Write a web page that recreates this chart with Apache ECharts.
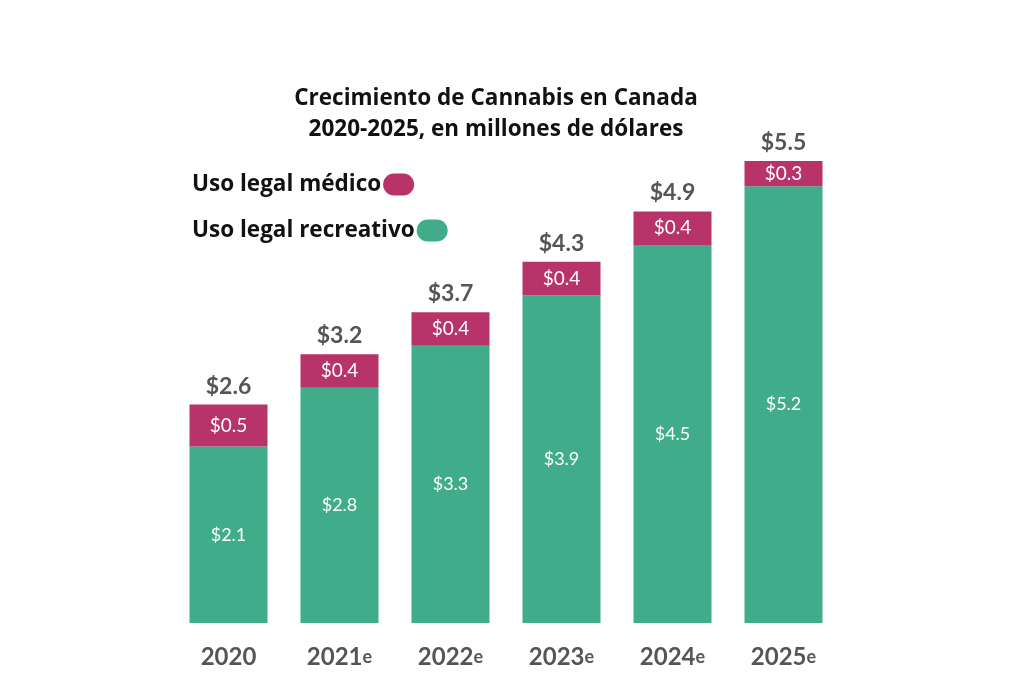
<!DOCTYPE html>
<html><head><meta charset="utf-8">
<script src="https://cdn.jsdelivr.net/npm/echarts@6/dist/echarts.min.js"></script>
<style>html,body{margin:0;padding:0;background:#fff}#c{width:1024px;height:683px}</style>
</head><body><div id="c"></div>
<script>
const years = ['2020', '2021', '2022', '2023', '2024', '2025'];
const yearSuffix = ['', 'e', 'e', 'e', 'e', 'e'];
const recreativo = [2.1, 2.8, 3.3, 3.9, 4.5, 5.2];
const medico = [0.5, 0.4, 0.4, 0.4, 0.4, 0.3];
const totals = [2.6, 3.2, 3.7, 4.3, 4.9, 5.5];

const pill = 'path://M11,0 H20 A11,11 0 0 1 20,22 H11 A11,11 0 0 1 11,0 Z';
const legendText = { fontFamily: 'Open Sans', fontWeight: 'bold', fontSize: 22.5, color: '#111', padding: [0, -3, 0, 0] };
const chart = echarts.init(document.getElementById('c'));
chart.setOption({
  backgroundColor: '#fff',
  title: {
    text: 'Crecimiento de Cannabis en Canada\n2020-2025, en millones de dólares',
    left: 491, top: 78, textAlign: 'center',
    textStyle: { fontFamily: 'Open Sans', fontWeight: 'bold', fontSize: 22.5, color: '#111', lineHeight: 31 }
  },
  legend: [
    { orient: 'vertical', left: 187, top: 168, align: 'right', itemWidth: 31, itemHeight: 22,
      icon: pill, data: ['Uso legal médico'], textStyle: legendText },
    { orient: 'vertical', left: 187, top: 214, align: 'right', itemWidth: 31, itemHeight: 22,
      icon: pill, data: ['Uso legal recreativo'], textStyle: legendText }
  ],
  grid: { left: 173, width: 666, top: 119, bottom: 60 },
  xAxis: {
    type: 'category',
    data: years.map((y, i) => y + '|' + yearSuffix[i]),
    axisLine: { show: false }, axisTick: { show: false },
    axisLabel: {
      margin: 22,
      formatter: v => { const p = v.split('|'); return '{y|' + p[0] + '}' + (p[1] ? '{e|' + p[1] + '}' : ''); },
      rich: {
        y: { fontFamily: 'Lato', fontSize: 24, color: '#555', fontWeight: 'bold' },
        e: { fontFamily: 'Lato', fontSize: 18, color: '#555', fontWeight: 'bold' }
      }
    }
  },
  yAxis: { type: 'value', min: 0, max: 6, show: false, splitLine: { show: false } },
  series: [
    {
      name: 'Uso legal recreativo', type: 'bar', stack: 't', barWidth: 78,
      itemStyle: { color: '#40AC89' },
      label: { show: true, position: 'inside', color: '#fff', fontFamily: 'Lato', fontSize: 18,
        formatter: p => '$' + p.value.toFixed(1) },
      data: recreativo
    },
    {
      name: 'Uso legal médico', type: 'bar', stack: 't', barWidth: 78,
      itemStyle: { color: '#B8336A' },
      label: { show: true, position: 'inside', color: '#fff', fontFamily: 'Lato', fontSize: 19,
        formatter: p => '$' + p.value.toFixed(1) },
      data: medico
    },
    {
      name: 'total', type: 'bar', stack: 't', barWidth: 78,
      itemStyle: { color: 'transparent' },
      label: { show: true, position: 'insideBottom', distance: 7, color: '#555', fontFamily: 'Lato', fontWeight: 'bold', fontSize: 23,
        formatter: p => '$' + totals[p.dataIndex].toFixed(1) },
      data: totals.map(() => 0.0001),
      silent: true
    }
  ]
});
</script></body></html>
